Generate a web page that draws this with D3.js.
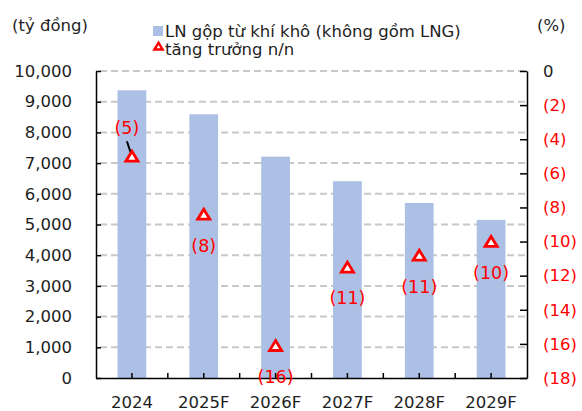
<!DOCTYPE html>
<html><head><meta charset="utf-8">
<script src="https://cdn.jsdelivr.net/npm/d3@7"></script>
<style>
body{margin:0;background:#fff;}
text{font-family:"DejaVu Sans",sans-serif;}
</style></head>
<body><svg id="c" width="582" height="411"></svg>
<script>
const categories = ["2024","2025F","2026F","2027F","2028F","2029F"];
const grossProfit = [9370, 8590, 7210, 6410, 5700, 5150];
const growth = [-5.0, -8.4, -16.1, -11.5, -10.8, -10.0];
const growthLabels = ["(5)","(8)","(16)","(11)","(11)","(10)"];
const leftTicks = [0,1000,2000,3000,4000,5000,6000,7000,8000,9000,10000];
const rightTicks = [0,-2,-4,-6,-8,-10,-12,-14,-16,-18];
const seriesNames = ["LN gộp từ khí khô (không gồm LNG)","tăng trưởng n/n"];

const svg = d3.select("#c");
const L = 96, R = 527, T = 71, B = 378;
const FS = 16.5;
const x = d3.scaleBand().domain(categories).range([L, R]);
const yL = d3.scaleLinear().domain([0, 10000]).range([B, T]);
const yR = d3.scaleLinear().domain([-18, 0]).range([B, T]);
const barColor = "#abc0e4", red = "#ff0000", txt = "#1e1e1e";
const fmt = d3.format(",");

// gridlines
svg.append("g").selectAll("line").data(leftTicks.filter(d => d > 0)).join("line")
  .attr("x1", L + 4).attr("x2", R).attr("y1", d => yL(d)).attr("y2", d => yL(d))
  .attr("stroke", "#c8c8c8").attr("stroke-width", 2).attr("stroke-dasharray", "7,4");

// bars
const bw = x.bandwidth() * 0.4;
svg.append("g").selectAll("rect").data(categories).join("rect")
  .attr("x", d => x(d) + (x.bandwidth() - bw) / 2).attr("width", bw)
  .attr("y", (d, i) => yL(grossProfit[i])).attr("height", (d, i) => B - yL(grossProfit[i]))
  .attr("fill", barColor);

// left axis
const axL = svg.append("g").attr("transform", `translate(${L},0)`)
  .call(d3.axisLeft(yL).tickValues(leftTicks).tickFormat(fmt).tickSizeInner(-5).tickSizeOuter(0).tickPadding(24));
axL.select(".domain").attr("stroke", "#000").attr("stroke-width", 1.5);
axL.selectAll(".tick line").attr("stroke", "#000").attr("stroke-width", 1.5);
axL.selectAll("text").attr("font-size", FS).attr("fill", txt).attr("font-family", "DejaVu Sans");

// right axis
const axR = svg.append("g").attr("transform", `translate(${R},0)`)
  .call(d3.axisRight(yR).tickValues(rightTicks)
    .tickFormat(d => d === 0 ? "0" : "(" + Math.abs(d) + ")").tickSizeInner(-7).tickSizeOuter(0).tickPadding(16));
axR.select(".domain").attr("stroke", "#000").attr("stroke-width", 1.5);
axR.selectAll(".tick line").attr("stroke", "#000").attr("stroke-width", 1.5);
axR.selectAll("text").attr("font-size", FS).attr("font-family", "DejaVu Sans")
  .attr("fill", d => d === 0 ? txt : red);

// bottom axis
const axB = svg.append("g").attr("transform", `translate(0,${B})`)
  .call(d3.axisBottom(x).tickSize(0).tickPadding(18));
axB.select(".domain").attr("stroke", "#000").attr("stroke-width", 1.5);
axB.selectAll("text").attr("font-size", FS).attr("fill", txt).attr("font-family", "DejaVu Sans");
const halfTicks = [];
categories.forEach(c => { halfTicks.push(x(c)); halfTicks.push(x(c) + x.bandwidth() / 2); });
halfTicks.push(R);
svg.append("g").selectAll("line").data(halfTicks.filter(v => v > L && v < R)).join("line")
  .attr("x1", d => d).attr("x2", d => d).attr("y1", B).attr("y2", B - 5)
  .attr("stroke", "#000").attr("stroke-width", 1.5);

// markers
const tri = (cx, cy, s) => `M${cx},${cy - s}L${cx + s * 1.1},${cy + s * 0.8}L${cx - s * 1.1},${cy + s * 0.8}Z`;
const cxs = categories.map(c => x(c) + x.bandwidth() / 2);

// leader line for first label
const lx = cxs[0] - 5, ly = yR(growth[0]) - 29;
svg.append("line").attr("x1", lx).attr("y1", ly + 14).attr("x2", cxs[0]).attr("y2", yR(growth[0]))
  .attr("stroke", "#000").attr("stroke-width", 2);

svg.append("g").selectAll("path").data(categories).join("path")
  .attr("d", (d, i) => tri(cxs[i], yR(growth[i]) + 0.5, 5.5))
  .attr("fill", "#fff").attr("stroke", red).attr("stroke-width", 2.8).attr("stroke-linejoin", "miter");

svg.append("g").selectAll("text").data(categories).join("text")
  .attr("x", (d, i) => i === 0 ? lx : cxs[i])
  .attr("y", (d, i) => i === 0 ? ly : yR(growth[i]) + 31)
  .attr("dy", "0.36em").attr("text-anchor", "middle")
  .attr("font-size", 17.5).attr("fill", red).text((d, i) => growthLabels[i]);

// unit labels
svg.append("text").attr("x", 12).attr("y", 31).attr("font-size", FS).attr("fill", txt).text("(tỷ đồng)");
svg.append("text").attr("x", 537).attr("y", 31).attr("font-size", FS).attr("fill", txt).text("(%)");

// legend
svg.append("rect").attr("x", 153).attr("y", 26).attr("width", 10).attr("height", 10).attr("fill", barColor);
svg.append("text").attr("x", 165).attr("y", 37).attr("font-size", FS).attr("fill", txt).text(seriesNames[0]);
svg.append("path").attr("d", tri(158.5, 46.5, 3.8)).attr("fill", "#fff").attr("stroke", red).attr("stroke-width", 2.4);
svg.append("text").attr("x", 165).attr("y", 55).attr("font-size", FS).attr("fill", txt).text(seriesNames[1]);
</script></body></html>
